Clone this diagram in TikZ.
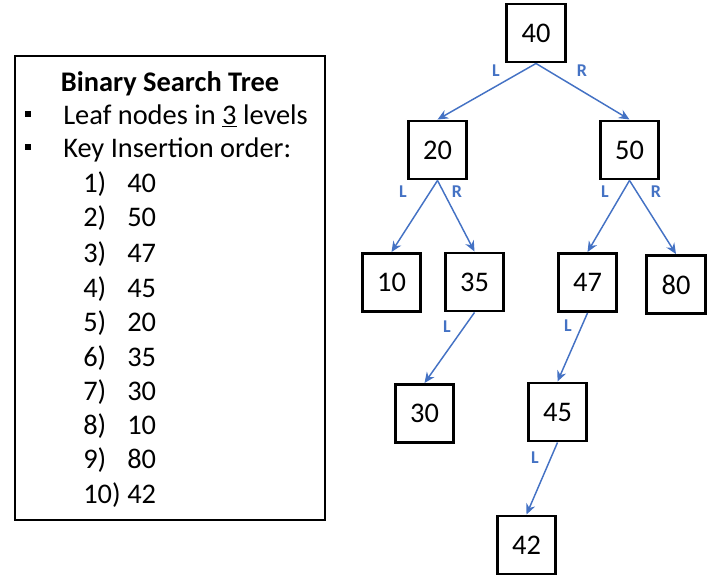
\documentclass[tikz,border=0pt]{standalone}
\usepackage{fontspec}
\setmainfont{Carlito}
\usetikzlibrary{arrows.meta}
\definecolor{edgeblue}{HTML}{4472C4}
\begin{document}
\begin{tikzpicture}[x=0.75pt,y=-0.75pt,
  keybox/.style={draw=black, line width=2.2pt, minimum width=44pt, minimum height=43.5pt, inner sep=0pt, font=\fontsize{21.3}{25}\selectfont},
  edge/.style={draw=edgeblue, line width=1.1pt, -{Stealth[length=8pt,width=7pt]}},
  lbl/.style={text=edgeblue, inner sep=0pt, font=\bfseries\fontsize{13.5}{14}\selectfont},
  txt/.style={inner sep=0pt, anchor=base west, font=\fontsize{21.3}{25}\selectfont},
  bul/.style={fill=black, minimum size=5pt, inner sep=0pt}]
\useasboundingbox (0,0) rectangle (724,586);
% legend box
\node[draw=black, line width=1pt, minimum width=232.5pt, minimum height=348pt, inner sep=0pt] (legend) at (170,288) {};
\node[inner sep=0pt, anchor=base, font=\bfseries\fontsize{21.3}{25}\selectfont] (title) at (170,91) {Binary Search Tree};
\node[bul] (b1) at (28,114) {};
\node[bul] (b2) at (28,147) {};
\node[txt] (leaf) at (63,124) {Leaf nodes in \underline{3} levels};
\node[txt] (ins) at (63,157) {Key Insertion order:};
\foreach \i/\k/\y in {1/40/192,2/50/226,3/47/262,4/45/297,5/20/331,6/35/366,7/30/400,8/10/434,9/80/468,10/42/503}{
  \node[txt] (num\i) at (83,\y) {\i)};
  \node[txt] (key\i) at (127,\y) {\k};
}
% tree nodes
\node[keybox] (n40) at (536,33) {40};
\node[keybox] (n20) at (437.5,150) {20};
\node[keybox] (n50) at (629.5,150) {50};
\node[keybox] (n10) at (391.5,282.5) {10};
\node[keybox] (n35) at (474.5,282) {35};
\node[keybox] (n47) at (587.5,282.5) {47};
\node[keybox] (n80) at (676,284.5) {80};
\node[keybox] (n30) at (424.5,413.5) {30};
\node[keybox] (n45) at (557.5,412) {45};
\node[keybox] (n42) at (526.5,545) {42};
% edges
\draw[edge] (n40.south) -- (n20.north);
\draw[edge] (n40.south) -- (n50.north);
\draw[edge] (n20.south) -- (n10.north);
\draw[edge] (n20.south) -- (n35.north);
\draw[edge] (n50.south) -- (n47.north);
\draw[edge] (n50.south) -- (n80.north);
\draw[edge] (n35.south) -- (n30.north);
\draw[edge] (n47.south) -- (n45.north);
\draw[edge] (n45.south) -- (n42.north);
% edge labels
\node[lbl] (l40) at (496,71) {L};
\node[lbl] (r40) at (582,71) {R};
\node[lbl] (l20) at (403,192) {L};
\node[lbl] (r20) at (457,192) {R};
\node[lbl] (l50) at (605,192) {L};
\node[lbl] (r50) at (656,192) {R};
\node[lbl] (l35) at (447,327) {L};
\node[lbl] (l47) at (568,326) {L};
\node[lbl] (l45) at (535,458) {L};
\end{tikzpicture}
\end{document}
